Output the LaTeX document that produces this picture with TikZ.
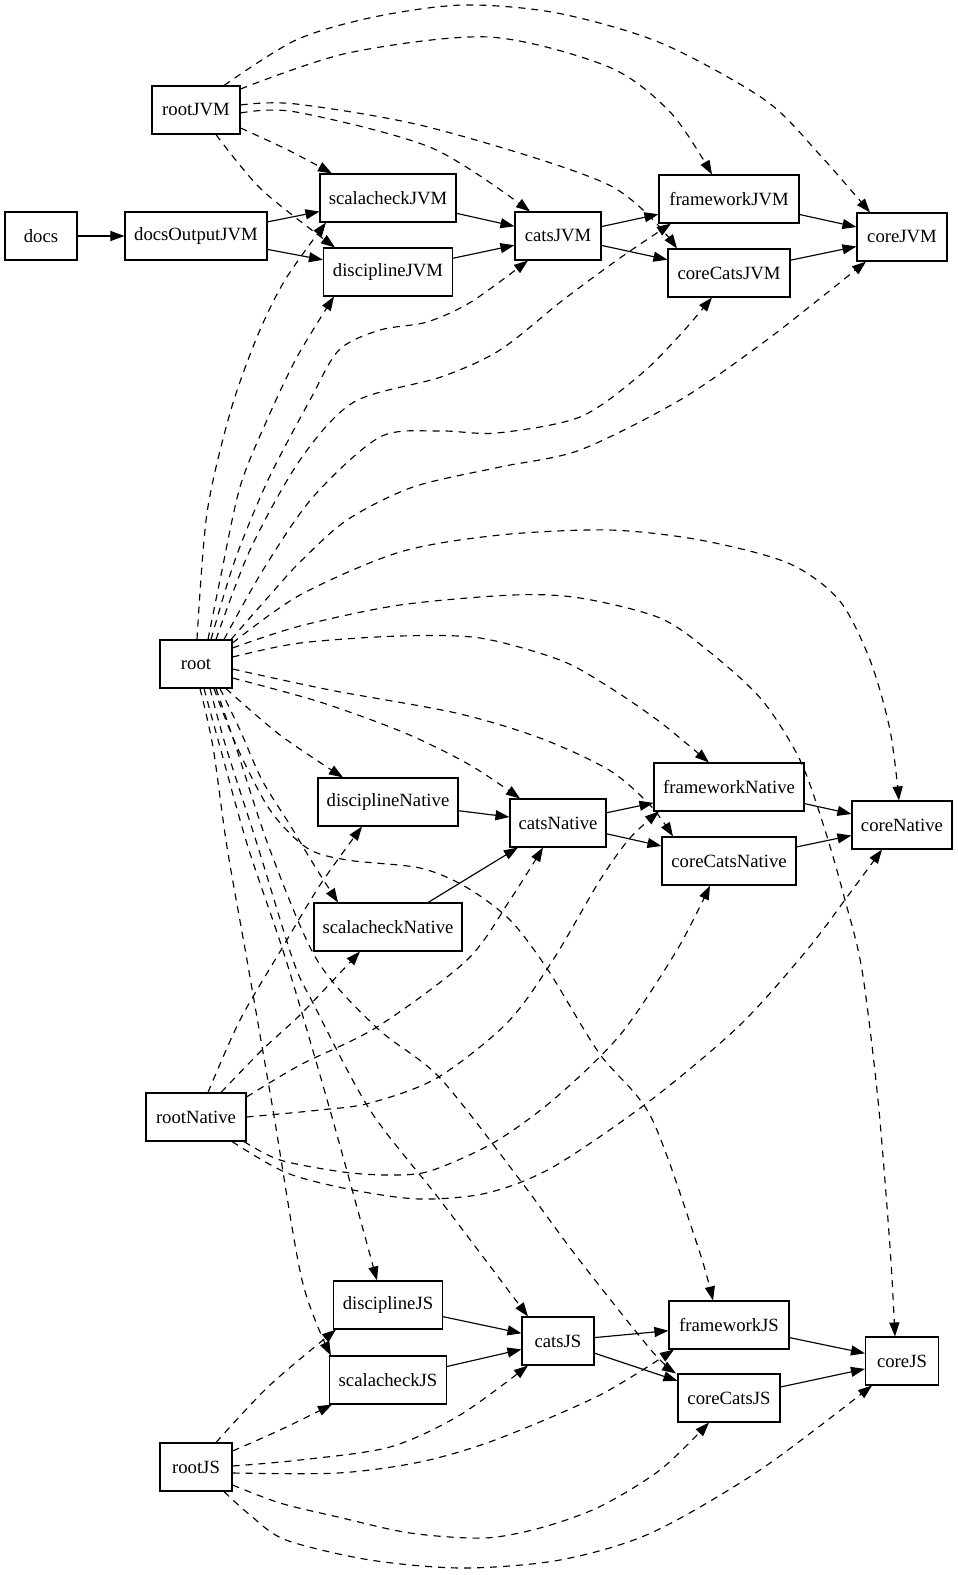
\documentclass[tikz,border=0pt]{standalone}
\usepackage{fontspec}
\newfontfamily\nodefont{Liberation Serif}
\usetikzlibrary{arrows.meta}
\tikzset{
  box/.style={draw, line width=1.1pt, minimum height=48pt, inner sep=0pt,
    font=\nodefont\fontsize{18.7}{22}\selectfont},
  dep/.style={-{Triangle[length=14pt,width=10pt]}, line width=1.15pt, dash pattern=on 7pt off 6pt},
  sol/.style={-{Triangle[length=14pt,width=10pt]}, line width=1.15pt},
}
\begin{document}
\begin{tikzpicture}[x=1pt,y=-1pt]
\useasboundingbox (0,0) rectangle (958,1575);
% nodes
\node[box, minimum width=72pt]  (docs) at (41,236) {docs};
\node[box, minimum width=142pt] (docsOutputJVM) at (196,236) {docsOutputJVM};
\node[box, minimum width=88pt]  (rootJVM) at (196,110) {rootJVM};
\node[box, minimum width=136pt] (scalacheckJVM) at (388,198) {scalacheckJVM};
\node[box, minimum width=129pt] (disciplineJVM) at (388,272) {disciplineJVM};
\node[box, minimum width=86pt]  (catsJVM) at (558,236) {catsJVM};
\node[box, minimum width=140pt] (frameworkJVM) at (729,199) {frameworkJVM};
\node[box, minimum width=122pt] (coreCatsJVM) at (729,273) {coreCatsJVM};
\node[box, minimum width=90pt]  (coreJVM) at (902,237) {coreJVM};
\node[box, minimum width=72pt]  (root) at (196,664) {root};
\node[box, minimum width=140pt] (disciplineNative) at (388,802) {disciplineNative};
\node[box, minimum width=96pt]  (catsNative) at (558,823) {catsNative};
\node[box, minimum width=150pt] (frameworkNative) at (729,787) {frameworkNative};
\node[box, minimum width=134pt] (coreCatsNative) at (729,861) {coreCatsNative};
\node[box, minimum width=100pt] (coreNative) at (902,825) {coreNative};
\node[box, minimum width=148pt] (scalacheckNative) at (388,927) {scalacheckNative};
\node[box, minimum width=100pt] (rootNative) at (196,1117) {rootNative};
\node[box, minimum width=109pt] (disciplineJS) at (388,1305) {disciplineJS};
\node[box, minimum width=117pt] (scalacheckJS) at (388,1380) {scalacheckJS};
\node[box, minimum width=72pt]  (catsJS) at (558,1341) {catsJS};
\node[box, minimum width=120pt] (frameworkJS) at (729,1325) {frameworkJS};
\node[box, minimum width=102pt] (coreCatsJS) at (729,1398) {coreCatsJS};
\node[box, minimum width=73pt]  (coreJS) at (902,1361) {coreJS};
\node[box, minimum width=72pt]  (rootJS) at (196,1467) {rootJS};

% solid edges
\draw[sol] (docs) -- (docsOutputJVM);
\draw[sol] (docsOutputJVM) -- (scalacheckJVM);
\draw[sol] (docsOutputJVM) -- (disciplineJVM);
\draw[sol] (scalacheckJVM) -- (catsJVM);
\draw[sol] (disciplineJVM) -- (catsJVM);
\draw[sol] (catsJVM) -- (frameworkJVM);
\draw[sol] (catsJVM) -- (coreCatsJVM);
\draw[sol] (frameworkJVM) -- (coreJVM);
\draw[sol] (coreCatsJVM) -- (coreJVM);
\draw[sol] (disciplineNative) -- (catsNative);
\draw[sol] (scalacheckNative) -- (catsNative);
\draw[sol] (catsNative) -- (frameworkNative);
\draw[sol] (catsNative) -- (coreCatsNative);
\draw[sol] (frameworkNative) -- (coreNative);
\draw[sol] (coreCatsNative) -- (coreNative);
\draw[sol] (disciplineJS) -- (catsJS);
\draw[sol] (scalacheckJS) -- (catsJS);
\draw[sol] (catsJS) -- (frameworkJS);
\draw[sol] (catsJS) -- (coreCatsJS);
\draw[sol] (frameworkJS) -- (coreJS);
\draw[sol] (coreCatsJS) -- (coreJS);

% rootJVM
\draw[dep] plot[smooth] coordinates {([yshift=-18pt]rootJVM.east) (288,150) ([xshift=-56pt]scalacheckJVM.north)};
\draw[dep] plot[smooth] coordinates {([xshift=20pt]rootJVM.south) (262,190) ([xshift=-53pt]disciplineJVM.north)};
\draw[dep] plot[smooth] coordinates {([yshift=-3pt]rootJVM.east) (296,112) (432,148) ([xshift=-28pt]catsJVM.north)};
\draw[dep] plot[smooth] coordinates {([yshift=5pt]rootJVM.east) (296,104) (432,128) (609,185) ([xshift=-52pt]coreCatsJVM.north)};
\draw[dep] plot[smooth] coordinates {([yshift=21pt]rootJVM.east) (348,53) (489,37) (609,67) (671,113) ([xshift=-17pt]frameworkJVM.north)};
\draw[dep] plot[smooth] coordinates {([xshift=28pt]rootJVM.north) (296,40) (374,17) (463,5) (557,13) (661,43) (765,100) (820,155) ([xshift=-32pt]coreJVM.north)};

% root -> JVM
\draw[dep] plot[smooth] coordinates {([xshift=1pt]root.north) (207,513) (230,413) (257,337) (285,280) ([xshift=-62pt]scalacheckJVM.south)};
\draw[dep] plot[smooth] coordinates {([xshift=12pt]root.north) (220,580) (240,487) (267,420) (297,357) ([xshift=-54pt]disciplineJVM.south)};
\draw[dep] plot[smooth] coordinates {([xshift=15pt]root.north) (235,560) (268,480) (310,400) (339,350) (380,330) (427,322) (471,302) ([xshift=-30pt]catsJVM.south)};
\draw[dep] plot[smooth] coordinates {([xshift=20pt]root.north) (250,550) (300,460) (354,402) (441,377) (500,350) (563,300) (620,258) ([xshift=-58pt]frameworkJVM.south)};
\draw[dep] plot[smooth] coordinates {([xshift=28pt]root.north) (263,570) (313,497) (380,437) (440,431) (497,433) (580,417) (640,375) (680,335) ([xshift=-17pt]coreCatsJVM.south)};
\draw[dep] plot[smooth] coordinates {([xshift=35pt]root.north) (270,595) (300,562) (347,520) (413,487) (500,467) (580,450) (680,400) (760,345) (818,300) ([xshift=-36pt]coreJVM.south)};

% root -> Native / JS arcs
\draw[dep] plot[smooth] coordinates {([yshift=21pt]root.east) (300,595) (400,552) (500,535) (609,530) (700,540) (788,563) (839,600) (870,660) (890,730) ([xshift=-3pt]coreNative.north)};
\draw[dep] plot[smooth] coordinates {([yshift=16pt]root.east) (300,626) (400,605) (513,595) (580,598) (660,618) (711,653) (762,700) (800,760) (825,830) (845,900) (862,970) (878,1100) (890,1247) ([xshift=-7pt]coreJS.north)};
\draw[dep] plot[smooth] coordinates {([yshift=7pt]root.east) (300,643) (400,636) (480,638) (560,660) (609,687) (660,722) ([xshift=-20pt]frameworkNative.north)};
\draw[dep] plot[smooth] coordinates {([yshift=-5pt]root.east) (330,690) (456,713) (540,738) (609,770) (650,805) ([xshift=-56pt]coreCatsNative.north)};
\draw[dep] plot[smooth] coordinates {([yshift=-14pt]root.east) (320,702) (405,733) (470,765) ([xshift=-38pt]catsNative.north)};
\draw[dep] plot[smooth] coordinates {([xshift=30pt]root.south) (280,735) ([xshift=-45pt]disciplineNative.north)};
\draw[dep] plot[smooth] coordinates {([xshift=24pt]root.south) (240,730) (262,780) (290,825) (314,865) ([xshift=-50pt]scalacheckNative.north)};
\draw[dep] plot[smooth] coordinates {([xshift=18pt]root.south) (237,747) (270,810) (307,848) (347,860) (420,868) (466,887) (510,920) (548,970) (599,1053) (651,1117) (698,1247) ([xshift=-16pt]frameworkJS.north)};

% root -> JS bundle
\draw[dep] plot[smooth] coordinates {([xshift=4pt]root.south) (213,747) (227,847) (247,960) (273,1110) (302,1280) ([xshift=2pt]scalacheckJS.north west)};
\draw[dep] plot[smooth] coordinates {([xshift=8pt]root.south) (220,747) (248,847) (286,960) (330,1110) ([xshift=-11pt]disciplineJS.north)};
\draw[dep] plot[smooth] coordinates {([xshift=14pt]root.south) (226,747) (258,847) (293,960) (313,1003) (370,1110) (440,1200) ([xshift=-30pt]catsJS.north)};
\draw[dep] plot[smooth] coordinates {([xshift=20pt]root.south) (236,747) (270,850) (317,960) (377,1028) (440,1078) (520,1180) (577,1257) (651,1350) ([xshift=-53pt]coreCatsJS.north)};

% rootNative
\draw[dep] plot[smooth] coordinates {([xshift=12pt]rootNative.north) (240,1020) (281,950) (320,885) ([xshift=-26pt]disciplineNative.south)};
\draw[dep] plot[smooth] coordinates {([xshift=25pt]rootNative.north) (262,1050) (302,1013) ([xshift=-28pt]scalacheckNative.south)};
\draw[dep] plot[smooth] coordinates {([yshift=20pt]rootNative.east) (300,1065) (377,1027) (467,960) (510,900) ([xshift=-15pt]catsNative.south)};
\draw[dep] plot[smooth] coordinates {(rootNative.east) (320,1110) (370,1103) (437,1078) (507,1023) (553,960) (600,880) (630,838) ([xshift=-70pt]frameworkNative.south)};
\draw[dep] plot[smooth] coordinates {([xshift=48pt]rootNative.south) (280,1160) (343,1172) (390,1175) (430,1171) (493,1143) (553,1100) (620,1035) (677,950) ([xshift=-19pt]coreCatsNative.south)};
\draw[dep] plot[smooth] coordinates {([xshift=36pt]rootNative.south) (287,1173) (353,1190) (420,1199) (487,1193) (553,1167) (651,1100) (740,1025) (807,950) (850,893) ([xshift=-20pt]coreNative.south)};

% rootJS
\draw[dep] plot[smooth] coordinates {([xshift=20pt]rootJS.north) (270,1385) ([xshift=-52pt]disciplineJS.south)};
\draw[dep] plot[smooth] coordinates {([yshift=16pt]rootJS.east) (280,1430) ([xshift=-56pt]scalacheckJS.south)};
\draw[dep] plot[smooth] coordinates {([yshift=1pt]rootJS.east) (300,1460) (390,1447) (460,1415) ([xshift=-30pt]catsJS.south)};
\draw[dep] plot[smooth] coordinates {([yshift=-6pt]rootJS.east) (338,1473) (420,1462) (495,1440) (600,1395) ([xshift=-55pt]frameworkJS.south)};
\draw[dep] plot[smooth] coordinates {([yshift=-18pt]rootJS.east) (280,1503) (338,1517) (410,1533) (484,1538) (540,1528) (599,1507) (660,1470) ([xshift=-20pt]coreCatsJS.south)};
\draw[dep] plot[smooth] coordinates {([xshift=28pt]rootJS.south) (250,1515) (286,1540) (370,1560) (463,1568) (560,1560) (651,1533) (760,1470) ([xshift=-30pt]coreJS.south)};
\end{tikzpicture}
\end{document}
